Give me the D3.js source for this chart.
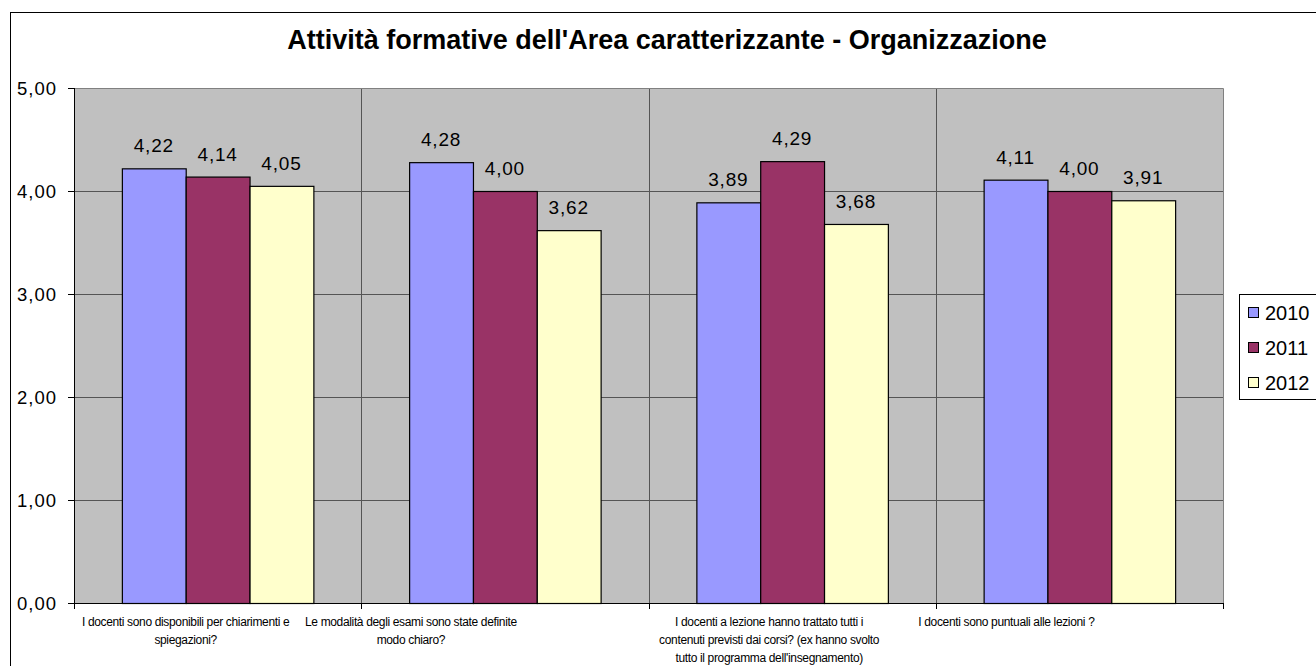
<!DOCTYPE html>
<html><head><meta charset="utf-8">
<script src="https://cdn.jsdelivr.net/npm/d3@7"></script>
<style>
body{margin:0;background:#fff;}
svg text{font-family:"Liberation Sans",Arial,sans-serif;fill:#000;}
</style></head>
<body>
<svg id="c" width="1316" height="666"></svg>
<script>
const categories = [
  ["I docenti sono disponibili  per chiarimenti e", "spiegazioni?"],
  ["Le modalità degli esami sono state definite", "modo chiaro?"],
  ["I docenti a lezione hanno trattato tutti i", "contenuti previsti dai corsi? (ex hanno svolto", "tutto il programma dell'insegnamento)"],
  ["I docenti sono puntuali alle lezioni ?"]
];
const seriesNames = ["2010", "2011", "2012"];
const values2010 = [4.22, 4.28, 3.89, 4.11];
const values2011 = [4.14, 4.00, 4.29, 4.00];
const values2012 = [4.05, 3.62, 3.68, 3.91];
const yTicks = [0, 1, 2, 3, 4, 5];
const title = "Attività formative dell'Area caratterizzante - Organizzazione";

const colors = ["#9999FF", "#993366", "#FFFFCC"];
const labelShift = [-32, -94, -23, -73];

const svg = d3.select("#c");
const M = {left: 74, right: 1223, top: 88, bottom: 603};
const fmt = v => v.toFixed(2).replace(".", ",");
const series = [values2010, values2011, values2012];

// outer border
svg.append("rect").attr("x", 10.5).attr("y", 12.5).attr("width", 1320).attr("height", 700)
  .attr("fill", "#fff").attr("stroke", "#000").attr("stroke-width", 1);

const x0 = d3.scaleBand().domain(d3.range(categories.length)).range([M.left, M.right])
  .paddingInner(1/3).paddingOuter(1/6);
const x1 = d3.scaleBand().domain(d3.range(seriesNames.length)).range([0, x0.bandwidth()]);
const y = d3.scaleLinear().domain([0, 5]).range([M.bottom, M.top]);
const bounds = d3.range(categories.length + 1).map(i => M.left + i * (M.right - M.left) / categories.length);

// plot background
svg.append("rect").attr("x", M.left).attr("y", M.top).attr("width", M.right - M.left)
  .attr("height", M.bottom - M.top).attr("fill", "#C0C0C0");

// gridlines
svg.append("g").selectAll("line").data(yTicks.filter(t => t > 0 && t < 5)).join("line")
  .attr("x1", M.left).attr("x2", M.right)
  .attr("y1", d => Math.round(y(d)) + 0.5).attr("y2", d => Math.round(y(d)) + 0.5)
  .attr("stroke", "#555").attr("stroke-width", 1);
// vertical separators
svg.append("g").selectAll("line").data(bounds.slice(1, -1)).join("line")
  .attr("x1", d => Math.round(d) + 0.5).attr("x2", d => Math.round(d) + 0.5)
  .attr("y1", M.top).attr("y2", M.bottom)
  .attr("stroke", "#555").attr("stroke-width", 1);
// top & right border
svg.append("path").attr("d", `M${M.left},${M.top + 0.5}H${M.right + 0.5}V${M.bottom}`)
  .attr("fill", "none").attr("stroke", "#808080").attr("stroke-width", 1);

// bars
const groups = svg.append("g").selectAll("g").data(categories).join("g")
  .attr("transform", (d, i) => `translate(${x0(i)},0)`);
groups.selectAll("rect").data((d, i) => series.map((s, j) => ({j, v: s[i]}))).join("rect")
  .attr("x", d => x1(d.j) + 0.5).attr("width", x1.bandwidth())
  .attr("y", d => y(d.v) + 0.5).attr("height", d => y(0) - y(d.v))
  .attr("fill", d => colors[d.j]).attr("stroke", "#000").attr("stroke-width", 1.2);
groups.selectAll("text").data((d, i) => series.map((s, j) => ({j, v: s[i]}))).join("text")
  .attr("x", d => x1(d.j) + x1.bandwidth() / 2).attr("y", d => y(d.v) - 16)
  .attr("text-anchor", "middle").attr("font-size", 19).attr("letter-spacing", 0.8)
  .text(d => fmt(d.v));

// y axis
const ya = svg.append("g");
ya.append("line").attr("x1", M.left + 0.5).attr("x2", M.left + 0.5).attr("y1", M.top).attr("y2", M.bottom)
  .attr("stroke", "#000");
ya.selectAll("line.t").data(yTicks).join("line").attr("class", "t")
  .attr("x1", M.left - 6).attr("x2", M.left).attr("y1", d => Math.round(y(d)) + 0.5).attr("y2", d => Math.round(y(d)) + 0.5)
  .attr("stroke", "#000");
ya.selectAll("text").data(yTicks).join("text")
  .attr("x", M.left - 17).attr("y", d => y(d) + 6.5)
  .attr("text-anchor", "end").attr("font-size", 18.5).attr("letter-spacing", 1)
  .text(d => fmt(d));

// x axis
const xa = svg.append("g");
xa.append("line").attr("x1", M.left).attr("x2", M.right + 1).attr("y1", M.bottom + 0.5).attr("y2", M.bottom + 0.5)
  .attr("stroke", "#000");
xa.selectAll("line.t").data(bounds).join("line").attr("class", "t")
  .attr("x1", d => Math.round(d) + 0.5).attr("x2", d => Math.round(d) + 0.5)
  .attr("y1", M.bottom).attr("y2", M.bottom + 6).attr("stroke", "#000");
xa.selectAll("text").data(categories).join("text")
  .attr("text-anchor", "middle").attr("font-size", 12).attr("letter-spacing", -0.35)
  .attr("transform", (d, i) => `translate(${x0(i) + x0.bandwidth() / 2 + labelShift[i]},${M.bottom + 23})`)
  .selectAll("tspan").data(d => d).join("tspan")
  .attr("x", 0).attr("dy", (d, k) => k === 0 ? 0 : 18).text(d => d);

// title
svg.append("text").attr("x", 667).attr("y", 49).attr("text-anchor", "middle")
  .attr("font-size", 27).attr("font-weight", "bold").text(title);

// legend
const lg = svg.append("g");
lg.append("rect").attr("x", 1239.5).attr("y", 294.5).attr("width", 100).attr("height", 105)
  .attr("fill", "#fff").attr("stroke", "#000");
const li = lg.selectAll("g").data(seriesNames).join("g")
  .attr("transform", (d, i) => `translate(1248,${313 + i * 35})`);
li.append("rect").attr("x", 0.5).attr("y", -5.5).attr("width", 10).attr("height", 10)
  .attr("fill", (d, i) => colors[i]).attr("stroke", "#000");
li.append("text").attr("x", 17).attr("y", 7).attr("font-size", 20).text(d => d);
</script>
</body></html>
